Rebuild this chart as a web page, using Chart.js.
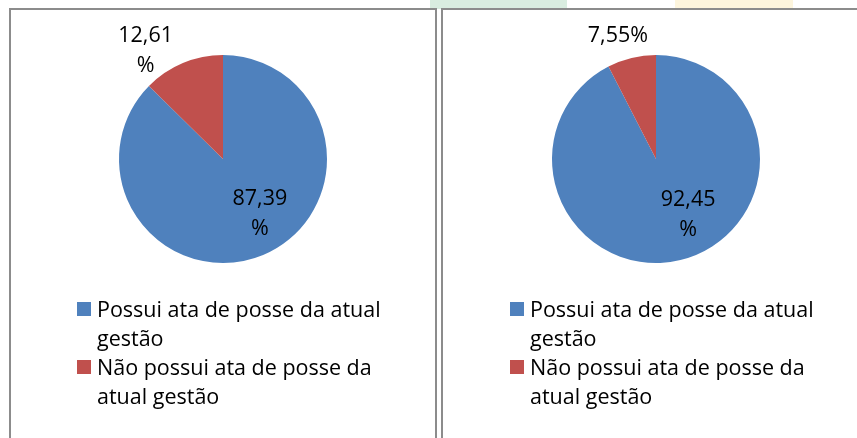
<!DOCTYPE html>
<html>
<head>
<meta charset="utf-8">
<script src="https://cdn.jsdelivr.net/npm/chart.js@4.4.0/dist/chart.umd.min.js"></script>
<style>
  html, body { margin: 0; padding: 0; background: #fff; width: 857px; height: 438px; overflow: hidden; position: relative; }
  .wm { position: absolute; top: 0; height: 9px; }
  .box { position: absolute; top: 8px; height: 450px; border: 2px solid #8c8c8c; background: #fff; box-sizing: border-box; }
  #boxA { left: 9px; width: 428px; }
  #boxB { left: 441px; width: 440px; }
  canvas { position: absolute; left: 0; top: 0; }
</style>
</head>
<body>
<div class="wm" style="left:430px;width:137px;background:#d9ede0"></div>
<div class="wm" style="left:675px;width:118px;background:#fdf5dd"></div>
<div class="box" id="boxA"><canvas id="chartA" width="424" height="428"></canvas></div>
<div class="box" id="boxB"><canvas id="chartB" width="414" height="428"></canvas></div>

<script>
// ---- data ----
const categories = ["Possui ata de posse da atual gestão", "Não possui ata de posse da atual gestão"];
const valuesA = [87.39, 12.61];
const valuesB = [92.45, 7.55];
const sliceColors = ["#4F81BD", "#C0504D"];

const FONT = '21.5px "Open Sans", sans-serif';

function formatPct(v) {
  return v.toFixed(2).replace(".", ",") + "%";
}

function wrapText(ctx, text, maxWidth) {
  const words = text.split(" ");
  const lines = [];
  let cur = "";
  words.forEach(w => {
    const test = cur ? cur + " " + w : w;
    if (cur && ctx.measureText(test).width > maxWidth) {
      lines.push(cur);
      cur = w;
    } else {
      cur = test;
    }
  });
  if (cur) lines.push(cur);
  return lines;
}

// data labels: big slice inside, small slice outside end
const pieLabels = {
  id: "pieLabels",
  afterDatasetsDraw(chart, args, opts) {
    const ctx = chart.ctx;
    const meta = chart.getDatasetMeta(0);
    const data = chart.data.datasets[0].data;
    ctx.save();
    ctx.font = FONT;
    ctx.fillStyle = "#000";
    ctx.textAlign = "center";
    ctx.textBaseline = "alphabetic";
    meta.data.forEach((arc, i) => {
      const mid = (arc.startAngle + arc.endAngle) / 2;
      const r = arc.outerRadius;
      const text = formatPct(data[i]);
      const lines = ctx.measureText(text).width > opts.maxWidth ? [text.slice(0, -1), "%"] : [text];
      const inside = (arc.endAngle - arc.startAngle) > Math.PI;
      const d = inside ? r * 0.62 : r + 24;
      const off = opts.offsets[i];
      const x = arc.x + Math.cos(mid) * d + off[0];
      const y = arc.y + Math.sin(mid) * d + off[1];
      const first = y - (lines.length - 1) * opts.lineHeight / 2;
      lines.forEach((ln, k) => ctx.fillText(ln, x, first + k * opts.lineHeight + 7.5));
    });
    ctx.restore();
  }
};

// legend with wrapped text under the pie
const wrapLegend = {
  id: "wrapLegend",
  afterDraw(chart, args, opts) {
    const ctx = chart.ctx;
    const area = chart.chartArea;
    const colors = chart.data.datasets[0].backgroundColor;
    ctx.save();
    ctx.font = FONT;
    ctx.textAlign = "left";
    ctx.textBaseline = "alphabetic";
    const x = area.left + opts.left;
    let y = area.bottom + opts.top;
    chart.data.labels.forEach((lab, i) => {
      ctx.fillStyle = colors[i];
      ctx.fillRect(x, y - 15, 14, 14);
      ctx.fillStyle = "#000";
      const lines = wrapText(ctx, lab, opts.maxWidth);
      lines.forEach((ln, k) => ctx.fillText(ln, x + 20, y + k * opts.lineHeight));
      y += lines.length * opts.lineHeight;
    });
    ctx.restore();
  }
};

function makePie(id, values, padding, offsets) {
  const ctx = document.getElementById(id).getContext("2d");
  return new Chart(ctx, {
    type: "pie",
    data: {
      labels: categories,
      datasets: [{
        data: values,
        backgroundColor: sliceColors,
        borderWidth: 0
      }]
    },
    options: {
      responsive: false,
      animation: false,
      layout: { padding: padding },
      plugins: {
        legend: { display: false },
        tooltip: { enabled: false },
        pieLabels: { maxWidth: 66, lineHeight: 30, offsets: offsets },
        wrapLegend: { left: -42, top: 54, lineHeight: 29, maxWidth: 300 }
      }
    },
    plugins: [pieLabels, wrapLegend]
  });
}

makePie("chartA", valuesA, { left: 108, right: 108, top: 45, bottom: 175 }, [[12, -6], [-28, 9]]);
makePie("chartB", valuesB, { left: 109, right: 97, top: 45, bottom: 175 }, [[17, -8], [-8, 0]]);
</script>
</body>
</html>
